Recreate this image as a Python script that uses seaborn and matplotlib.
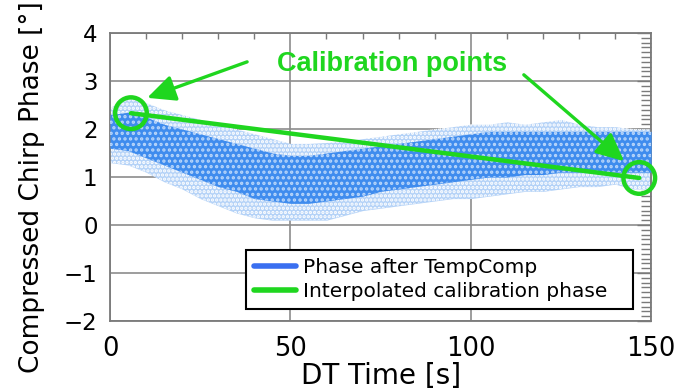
import matplotlib
matplotlib.use("Agg")
import matplotlib.pyplot as plt
import pandas as pd
import seaborn as sns
from matplotlib.lines import Line2D
from matplotlib.ticker import MultipleLocator

# Phase after temperature compensation: envelope of the measured samples
time_s = [0, 5, 10, 15, 20, 25, 30, 35, 40, 45, 50, 55, 60, 65, 70, 75,
          80, 85, 90, 95, 100, 105, 110, 115, 120, 125, 130, 135, 140, 145, 150]
phase_outer_hi = [2.45, 2.65, 2.55, 2.40, 2.30, 2.20, 2.10, 2.00, 1.90, 1.80,
                  1.70, 1.70, 1.72, 1.75, 1.80, 1.85, 1.90, 1.95, 2.00, 2.05,
                  2.10, 2.10, 2.15, 2.10, 2.15, 2.20, 2.10, 2.05, 2.05, 2.00, 2.00]
phase_outer_lo = [1.30, 1.25, 1.10, 0.90, 0.75, 0.55, 0.40, 0.25, 0.15, 0.10,
                  0.10, 0.10, 0.10, 0.20, 0.30, 0.35, 0.40, 0.45, 0.50, 0.55,
                  0.55, 0.60, 0.65, 0.70, 0.70, 0.75, 0.80, 0.80, 0.85, 0.75, 0.75]
phase_core_hi = [2.30, 2.35, 2.25, 2.10, 2.00, 1.90, 1.80, 1.70, 1.60, 1.50,
                 1.45, 1.45, 1.50, 1.55, 1.60, 1.65, 1.70, 1.75, 1.80, 1.85,
                 1.90, 1.95, 1.95, 1.95, 1.95, 1.95, 1.95, 1.95, 1.95, 1.95, 1.95]
phase_core_lo = [1.60, 1.55, 1.40, 1.25, 1.10, 0.95, 0.80, 0.70, 0.55, 0.50,
                 0.45, 0.45, 0.50, 0.55, 0.60, 0.70, 0.75, 0.80, 0.85, 0.90,
                 0.95, 1.00, 1.00, 1.05, 1.05, 1.10, 1.10, 1.10, 1.10, 1.10, 1.10]

# Calibration points and the interpolated calibration phase between them
cal_time = [5.8, 146.7]
cal_phase = [2.33, 0.98]

x_ticks = [0, 50, 100, 150]
y_ticks = [-2, -1, 0, 1, 2, 3, 4]
legend_labels = ["Phase after TempComp", "Interpolated calibration phase"]

BLUE = "#3a6ff0"
GREEN = "#1fd61f"
FRAME = "#7a7a7a"

sns.set_style("white")
plt.rcParams["font.family"] = ["DejaVu Sans"]
plt.rcParams["text.color"] = "black"
plt.rcParams["axes.labelcolor"] = "black"
plt.rcParams["hatch.linewidth"] = 1.6

fig = plt.figure(figsize=(6.92, 3.89), dpi=100)
ax = fig.add_axes([0.159, 0.175, 0.782, 0.740])

ax.grid(True, which="major", color="#8c8c8c", lw=1.2)
ax.set_axisbelow(True)

# measured phase band: sparse outer envelope, dense core, speckle overlay
ax.fill_between(time_s, phase_outer_lo, phase_outer_hi, color="#b4d2f7",
                lw=0, zorder=2)
ax.fill_between(time_s, phase_outer_lo, phase_outer_hi, facecolor="none",
                edgecolor="#ffffff", hatch="....", lw=0, zorder=2.5)
ax.fill_between(time_s, phase_core_lo, phase_core_hi, color="#3f8cee",
                lw=0, zorder=3)
ax.fill_between(time_s, phase_core_lo, phase_core_hi, facecolor="none",
                edgecolor="#b9d6fa", hatch="...", lw=0, zorder=3.5)

# interpolated calibration phase and the calibration points
cal = pd.DataFrame({"time": cal_time, "phase": cal_phase})
sns.lineplot(data=cal, x="time", y="phase", color=GREEN, lw=3.2, ax=ax,
             zorder=5)
sns.scatterplot(data=cal, x="time", y="phase", s=520, marker="o",
                facecolor="none", edgecolor=GREEN, linewidth=3.2, ax=ax,
                zorder=6, clip_on=False)

ax.text(78.3, 3.35, "Calibration points", color=GREEN, fontsize=19.5,
        fontweight="bold", family=["Liberation Sans"], ha="center",
        va="center", zorder=7)
arrow = dict(arrowstyle="-|>,head_length=0.85,head_width=0.4", color=GREEN,
             lw=2.4, mutation_scale=20, shrinkA=0, shrinkB=0)
ax.annotate("", xy=(10.3, 2.65), xytext=(38.0, 3.40), arrowprops=arrow,
            zorder=7)
ax.annotate("", xy=(142.5, 1.33), xytext=(114.7, 3.13), arrowprops=arrow,
            zorder=7)

ax.set_xlim(0, 150)
ax.set_ylim(-2, 4)
ax.set_xticks(x_ticks)
ax.set_yticks(y_ticks)
ax.xaxis.set_minor_locator(MultipleLocator(10))
ax.yaxis.set_minor_locator(MultipleLocator(0.1))
ax.tick_params(which="both", direction="in", top=True, right=True,
               colors=FRAME, labelcolor="black")
ax.tick_params(axis="x", which="major", length=0, labelsize=18.5, pad=11)
ax.tick_params(axis="x", which="minor", length=4, width=1)
ax.tick_params(axis="y", which="major", length=10, width=1, labelsize=16.5,
               pad=9)
ax.tick_params(axis="y", which="minor", length=7, width=1)
for sp in ax.spines.values():
    sp.set_color(FRAME)
    sp.set_linewidth(1.3)

ax.set_xlabel("DT Time [s]", fontsize=20, labelpad=0)
ax.set_ylabel("Compressed Chirp Phase [°]", fontsize=19)
ax.yaxis.set_label_coords(-0.121, 0.466)

handles = [Line2D([], [], color=BLUE, lw=4), Line2D([], [], color=GREEN, lw=4)]
leg = ax.legend(handles, legend_labels, loc="lower left",
                bbox_to_anchor=(0.2514, 0.042, 0.7153, 0.205), mode="expand",
                fontsize=14.5, frameon=True, fancybox=False, edgecolor="black",
                framealpha=1, handlelength=2.1, handletextpad=0.35,
                labelspacing=0.25, borderpad=0.4, borderaxespad=0)
leg.get_frame().set_linewidth(1.5)
leg.set_zorder(8)

fig.savefig("out.png", dpi=100)
